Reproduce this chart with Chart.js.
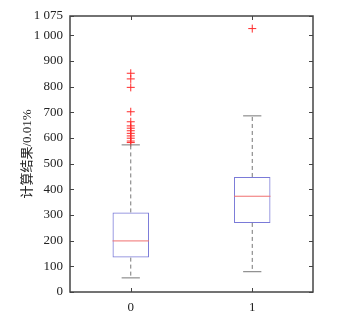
<!DOCTYPE html>
<html>
<head>
<meta charset="utf-8">
<script src="https://cdn.jsdelivr.net/npm/chart.js@4"></script>
<style>
    html, body { margin: 0; padding: 0; background: #fff; }
    #wrap { width: 339px; height: 327px; }
</style>
</head>
<body>
<div id="wrap"><canvas id="boxChart" width="339" height="327"></canvas></div>
<script>
// box plot summary
const categories = ["0", "1"]
const lowerWhisker = [55, 79]
const q1 = [134, 269]
const median = [199, 373]
const q3 = [310, 448]
const upperWhisker = [573, 686]
const outliers0 = [852, 830, 797, 702, 663, 647, 638, 628, 618, 608, 599, 588, 582]
const outliers1 = [1026]
const yTicks = [0, 100, 200, 300, 400, 500, 600, 700, 800, 900, 1000, 1075]

const serif = "'Liberation Serif', 'Noto Sans CJK SC', serif"
const frameColor = "#444"

const outlierPoints = []
outliers0.forEach(v => outlierPoints.push({x: categories[0], y: v}))
outliers1.forEach(v => outlierPoints.push({x: categories[1], y: v}))

const boxExtras = {
    id: "boxExtras",
    afterDatasetsDraw(chart) {
        const ctx = chart.ctx
        const x = chart.scales.x
        const y = chart.scales.y
        const area = chart.chartArea
        const bars = chart.getDatasetMeta(0).data

        ctx.save()
        bars.forEach((bar, i) => {
            const cx = bar.x
            const half = bar.width / 2
            const cap = half / 2

            // whiskers
            ctx.strokeStyle = "#777"
            ctx.lineWidth = 1
            ctx.setLineDash([4, 3])
            ctx.beginPath()
            ctx.moveTo(cx, y.getPixelForValue(q3[i]))
            ctx.lineTo(cx, y.getPixelForValue(upperWhisker[i]))
            ctx.moveTo(cx, y.getPixelForValue(q1[i]))
            ctx.lineTo(cx, y.getPixelForValue(lowerWhisker[i]))
            ctx.stroke()
            ctx.setLineDash([])

            ctx.beginPath()
            ctx.moveTo(cx - cap, y.getPixelForValue(upperWhisker[i]))
            ctx.lineTo(cx + cap, y.getPixelForValue(upperWhisker[i]))
            ctx.moveTo(cx - cap, y.getPixelForValue(lowerWhisker[i]))
            ctx.lineTo(cx + cap, y.getPixelForValue(lowerWhisker[i]))
            ctx.stroke()

            // median
            ctx.strokeStyle = "#f07070"
            ctx.beginPath()
            ctx.moveTo(cx - half, y.getPixelForValue(median[i]))
            ctx.lineTo(cx + half, y.getPixelForValue(median[i]))
            ctx.stroke()
        })

        // frame
        ctx.strokeStyle = frameColor
        ctx.lineWidth = 1.5
        ctx.strokeRect(area.left, area.top, area.right - area.left, area.bottom - area.top)

        // inward ticks
        ctx.lineWidth = 1
        ctx.beginPath()
        yTicks.forEach(t => {
            const py = Math.round(y.getPixelForValue(t)) + 0.5
            ctx.moveTo(area.left, py)
            ctx.lineTo(area.left + 4, py)
            ctx.moveTo(area.right, py)
            ctx.lineTo(area.right - 4, py)
        })
        categories.forEach((c, i) => {
            const px = Math.round(x.getPixelForValue(i)) + 0.5
            ctx.moveTo(px, area.bottom)
            ctx.lineTo(px, area.bottom - 4)
            ctx.moveTo(px, area.top)
            ctx.lineTo(px, area.top + 4)
        })
        ctx.stroke()
        ctx.restore()
    }
}

const ctx = document.getElementById("boxChart")

new Chart(ctx, {
    type: "bar",
    data: {
        labels: categories,
        datasets: [
            {
                data: categories.map((c, i) => [q1[i], q3[i]]),
                backgroundColor: "rgba(0,0,0,0)",
                borderColor: "#7a7ad8",
                borderWidth: 1,
                borderSkipped: false,
                categoryPercentage: 1,
                barPercentage: 0.3
            },
            {
                type: "line",
                data: outlierPoints,
                showLine: false,
                pointStyle: "cross",
                pointRadius: 4,
                pointBorderWidth: 1,
                pointBorderColor: "#ff2a2a",
                pointBackgroundColor: "#ff2a2a"
            }
        ]
    },
    options: {
        responsive: false,
        animation: false,
        events: [],
        layout: {
            padding: { left: 0, right: 26, top: 16, bottom: 0 }
        },
        plugins: {
            legend: { display: false },
            tooltip: { enabled: false }
        },
        scales: {
            x: {
                offset: true,
                grid: { display: false, drawTicks: false },
                border: { display: false },
                ticks: {
                    color: "#222",
                    padding: 8,
                    font: { family: serif, size: 13 }
                },
                afterFit(scale) { scale.height = 35 }
            },
            y: {
                min: 0,
                max: 1075,
                grid: { display: false, drawTicks: false },
                border: { display: false },
                afterBuildTicks(scale) {
                    scale.ticks = yTicks.map(v => ({value: v}))
                },
                ticks: {
                    color: "#222",
                    padding: 7,
                    autoSkip: false,
                    font: { family: serif, size: 13 },
                    callback: v => v >= 1000 ? "1 " + String(v).slice(1) : String(v)
                },
                title: {
                    display: true,
                    text: "计算结果/0.01%",
                    color: "#222",
                    padding: { top: 20, bottom: 0 },
                    font: { family: serif, size: 13 }
                },
                afterFit(scale) { scale.width = 70 }
            }
        }
    },
    plugins: [boxExtras]
})
</script>
</body>
</html>
